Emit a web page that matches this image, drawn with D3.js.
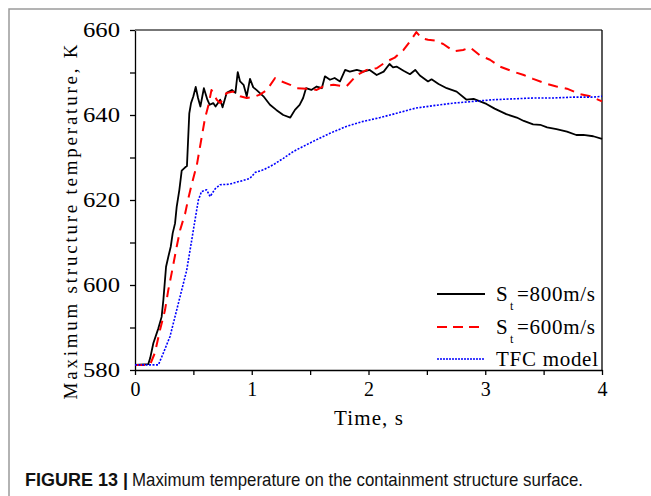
<!DOCTYPE html>
<html>
<head>
<meta charset="utf-8">
<script src="https://cdn.jsdelivr.net/npm/d3@7"></script>
<style>
  body { margin: 0; background: #fff; }
  svg { display: block; }
</style>
</head>
<body>
<script>
// data
const t800 = [0, 0.114, 0.13, 0.157, 0.20, 0.228, 0.243, 0.266, 0.285, 0.306, 0.323, 0.343, 0.357, 0.38, 0.40, 0.43, 0.445, 0.465, 0.48, 0.50, 0.52, 0.54, 0.56, 0.59, 0.62, 0.64, 0.67, 0.69, 0.73, 0.75, 0.785, 0.83, 0.86, 0.88, 0.90, 0.93, 0.957, 0.985, 1.013, 1.04, 1.10, 1.156, 1.21, 1.27, 1.33, 1.37, 1.41, 1.44, 1.465, 1.51, 1.556, 1.6, 1.627, 1.67, 1.71, 1.756, 1.80, 1.84, 1.90, 1.955, 2.01, 2.07, 2.13, 2.18, 2.21, 2.24, 2.30, 2.355, 2.40, 2.44, 2.51, 2.54, 2.60, 2.67, 2.755, 2.84, 2.90, 2.955, 3.01, 3.08, 3.18, 3.27, 3.33, 3.41, 3.47, 3.53, 3.61, 3.70, 3.78, 3.84, 3.925, 4.0];
const k800 = [581.2, 581.4, 582.8, 586.3, 589.8, 592.5, 596.5, 604.3, 606.6, 609, 612.2, 614.5, 618.4, 622.4, 626.9, 627.7, 628, 640.4, 642.8, 644.4, 646.6, 644, 642, 646.3, 643.6, 642.4, 642.8, 642, 643.6, 641.8, 645.2, 645.9, 645.2, 650.1, 647.9, 647.1, 644.4, 648.5, 646.5, 645.9, 644.4, 642.4, 641.2, 640, 639.4, 641.2, 642.4, 644, 646.3, 645.9, 646.7, 646.3, 649.1, 648.3, 648.7, 647.9, 650.6, 650.2, 650.6, 650.2, 650.6, 649.4, 650.2, 652, 651.2, 651.4, 650.4, 649.6, 650.6, 649.3, 647.9, 648.4, 647.3, 646.3, 645.5, 643.6, 643.8, 643.2, 642.6, 641.5, 640.2, 639.4, 638.6, 637.8, 637.7, 637.1, 636.7, 636.1, 635.3, 635.3, 635, 634.4];

const t600 = [0, 0.128, 0.17, 0.214, 0.257, 0.285, 0.314, 0.357, 0.386, 0.43, 0.457, 0.485, 0.53, 0.57, 0.60, 0.63, 0.655, 0.70, 0.73, 0.785, 0.84, 0.90, 0.957, 1.013, 1.07, 1.13, 1.20, 1.256, 1.33, 1.385, 1.47, 1.556, 1.61, 1.70, 1.81, 1.90, 1.985, 2.07, 2.155, 2.225, 2.30, 2.355, 2.41, 2.455, 2.51, 2.57, 2.64, 2.73, 2.81, 2.87, 2.955, 3.04, 3.126, 3.24, 3.33, 3.41, 3.53, 3.61, 3.70, 3.81, 3.90, 4.0];
const k600 = [581.2, 581.2, 584, 589.4, 594.1, 598.8, 602.8, 609, 612.9, 616.9, 620.4, 623.6, 628.3, 634.6, 639.3, 642.4, 645.9, 643.6, 642.8, 645.2, 645.5, 644.4, 644, 644.2, 644.8, 645.9, 648.7, 647.9, 647.1, 646.3, 646.2, 645.9, 646.7, 647.1, 646.7, 649.4, 650.6, 651, 652.6, 653.5, 655.3, 657.3, 659.5, 658.1, 657.7, 657.5, 656.7, 655, 655.3, 655.9, 654, 653, 651.4, 650.2, 649.4, 648.5, 647.3, 646.7, 646.2, 644.9, 644.4, 643.2];

const tTfc = [0, 0.20, 0.243, 0.30, 0.357, 0.40, 0.443, 0.486, 0.514, 0.543, 0.57, 0.614, 0.643, 0.686, 0.73, 0.81, 0.87, 0.914, 0.985, 1.03, 1.10, 1.185, 1.27, 1.356, 1.44, 1.556, 1.67, 1.81, 1.955, 2.10, 2.24, 2.40, 2.555, 2.73, 2.90, 3.07, 3.24, 3.41, 3.58, 3.755, 3.925, 4.0];
const kTfc = [581.2, 581.2, 584, 587.9, 594.1, 598.8, 603.5, 610.6, 615.3, 620, 622, 622.4, 620.8, 622.6, 623.6, 623.7, 624.2, 624.5, 625.1, 626.5, 627.1, 628.3, 629.8, 631.4, 632.6, 634.2, 635.7, 637.3, 638.5, 639.4, 640.4, 641.6, 642.2, 642.8, 643.2, 643.6, 643.8, 644, 644, 644.2, 644.2, 644.4];

const xTicks = [0, 0.5, 1, 1.5, 2, 2.5, 3, 3.5, 4];
const yTicks = [580, 590, 600, 610, 620, 630, 640, 650, 660];

const series = [
  {sub: "t", label: "=800m/s", t: t800, k: k800, color: "#000000", dash: null, w: 1.8},
  {sub: "t", label: "=600m/s", t: t600, k: k600, color: "#ff0000", dash: "10,7", w: 2},
  {sub: null, label: "TFC model", t: tTfc, k: kTfc, color: "#0000ff", dash: "2,1.5", w: 1.6}
];

const W = 651, H = 496;
const margin = {top: 30, right: 49, bottom: 126, left: 135},
    width = W - margin.left - margin.right,
    height = H - margin.top - margin.bottom;

const root = d3.select("body").append("svg")
    .attr("width", W)
    .attr("height", H);

root.append("rect").attr("width", W).attr("height", H).attr("fill", "#fff");

// figure frame (top and left edge only visible)
root.append("path")
    .attr("d", `M9,${H} L9,9 L${W},9`)
    .attr("fill", "none")
    .attr("stroke", "#9a9a9a")
    .attr("stroke-width", 1.5);

const svg = root.append("g")
    .attr("transform", `translate(${margin.left},${margin.top})`);

const x = d3.scaleLinear().domain([0, 4]).range([0, width]);
const y = d3.scaleLinear().domain([580, 660]).range([height, 0]);

const serif = "'Liberation Serif', 'Times New Roman', serif";

// X axis
const gx = svg.append("g")
    .attr("transform", `translate(0,${height})`)
    .call(d3.axisBottom(x).tickValues(xTicks).tickSize(5).tickSizeOuter(0)
        .tickFormat(d => Number.isInteger(d) ? d : ""));
gx.select(".domain").attr("stroke-width", 1.3);
gx.selectAll(".tick line").attr("stroke-width", 1.3);
gx.selectAll(".tick text")
    .attr("font-family", serif)
    .attr("font-size", 20)
    .attr("dy", "0.95em")
    .attr("y", 7);

// Y axis
const gy = svg.append("g")
    .call(d3.axisLeft(y).tickValues(yTicks).tickSize(5).tickSizeOuter(0)
        .tickFormat(d => d % 20 === 0 ? d : ""));
gy.select(".domain").attr("stroke-width", 1.3);
gy.selectAll(".tick line").attr("stroke-width", 1.3);
gy.selectAll(".tick text")
    .attr("font-family", serif)
    .attr("font-size", 20)
    .attr("x", -15)
    .attr("textLength", d => d % 20 === 0 ? 37 : null)
    .attr("lengthAdjust", "spacingAndGlyphs");

// top and right border of the plot
svg.append("line")
    .attr("x1", 0).attr("x2", width).attr("y1", 0).attr("y2", 0)
    .attr("stroke", "#777").attr("stroke-width", 2);
svg.append("line")
    .attr("x1", width).attr("x2", width).attr("y1", 0).attr("y2", height)
    .attr("stroke", "#000").attr("stroke-width", 1.3);

// axis titles
svg.append("text")
    .attr("x", x(2))
    .attr("y", height + 55)
    .attr("text-anchor", "middle")
    .attr("font-family", serif)
    .attr("font-size", 21)
    .attr("textLength", 69)
    .attr("lengthAdjust", "spacing")
    .text("Time, s");

svg.append("text")
    .attr("transform", `translate(${70 - margin.left + 7},${222 - margin.top}) rotate(-90)`)
    .attr("text-anchor", "middle")
    .attr("font-family", serif)
    .attr("font-size", 19)
    .attr("textLength", 355)
    .attr("lengthAdjust", "spacing")
    .text("Maximum structure temperature, K");

// lines
const line = d3.line()
    .x(d => x(d[0]))
    .y(d => y(d[1]));

svg.selectAll(".series")
    .data(series)
    .join("path")
    .attr("class", "series")
    .attr("fill", "none")
    .attr("stroke", d => d.color)
    .attr("stroke-width", d => d.w)
    .attr("stroke-dasharray", d => d.dash)
    .attr("stroke-linejoin", "round")
    .attr("d", d => line(d.t.map((t, i) => [t, d.k[i]])));

// legend
const legY = [294, 327, 359];
const leg = root.selectAll(".leg")
    .data(series)
    .join("g")
    .attr("class", "leg")
    .attr("transform", (d, i) => `translate(0,${legY[i]})`);

leg.append("line")
    .attr("x1", 437).attr("x2", 485)
    .attr("stroke", d => d.color)
    .attr("stroke-width", d => d.w)
    .attr("stroke-dasharray", d => d.dash ? (d.dash === "10,7" ? "10,6" : "2,1") : null);

leg.each(function(d) {
  const g = d3.select(this);
  if (d.sub) {
    g.append("text")
        .attr("x", 496).attr("y", 7)
        .attr("font-family", serif).attr("font-size", 21)
        .text("S");
    g.append("text")
        .attr("x", 510).attr("y", 16)
        .attr("font-family", serif).attr("font-size", 12)
        .text(d.sub);
    g.append("text")
        .attr("x", 517).attr("y", 7)
        .attr("font-family", serif).attr("font-size", 21)
        .attr("textLength", 78).attr("lengthAdjust", "spacing")
        .text(d.label);
  } else {
    g.append("text")
        .attr("x", 496).attr("y", 7)
        .attr("font-family", serif).attr("font-size", 21)
        .attr("textLength", 102).attr("lengthAdjust", "spacing")
        .text(d.label);
  }
});

// caption
const sans = "'Liberation Sans', Arial, sans-serif";
root.append("text")
    .attr("x", 25)
    .attr("y", 486)
    .attr("font-family", sans)
    .attr("font-size", 19)
    .attr("font-weight", "bold")
    .attr("textLength", 103)
    .attr("lengthAdjust", "spacingAndGlyphs")
    .attr("fill", "#111")
    .text("FIGURE 13 |");
root.append("text")
    .attr("x", 132)
    .attr("y", 486)
    .attr("font-family", sans)
    .attr("font-size", 19)
    .attr("textLength", 451)
    .attr("lengthAdjust", "spacingAndGlyphs")
    .attr("fill", "#111")
    .text("Maximum temperature on the containment structure surface.");
</script>
</body>
</html>
